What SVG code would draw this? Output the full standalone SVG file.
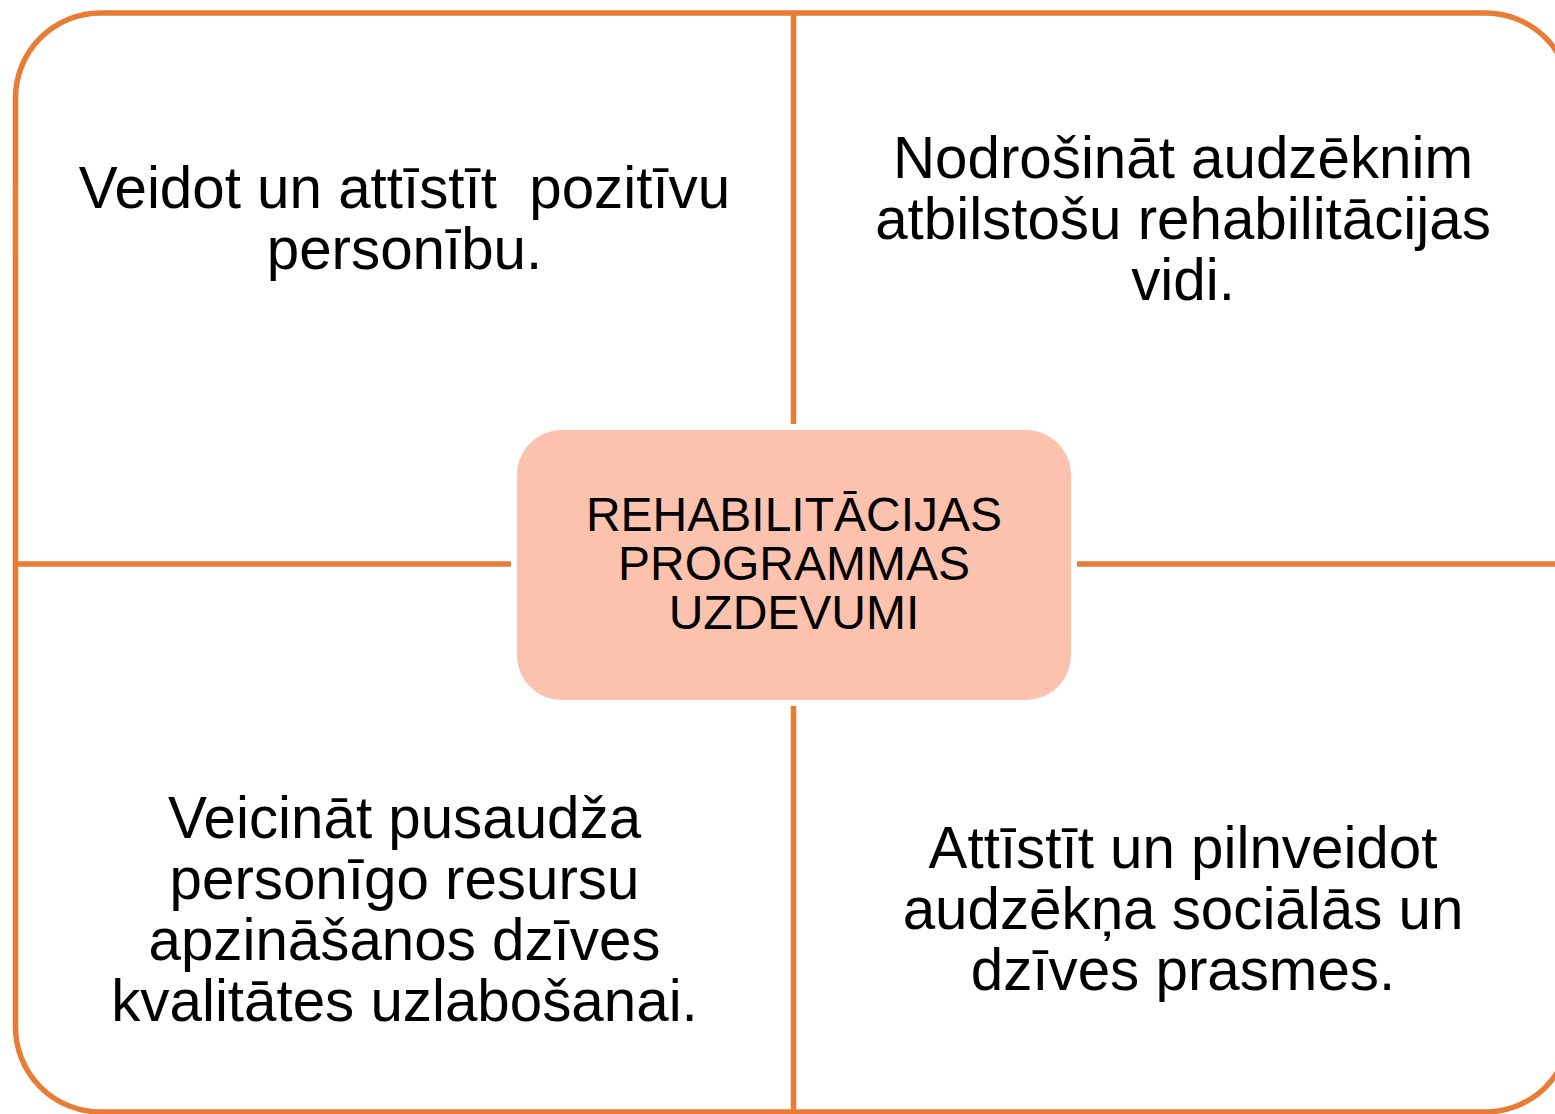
<svg xmlns="http://www.w3.org/2000/svg" width="1555" height="1114" viewBox="0 0 1555 1114">
<style>
.frame{fill:none;stroke:#E97C35;stroke-width:5.5}
.conn{stroke:#E97C35;stroke-width:5.5;fill:none}
.t{font-family:"Liberation Sans",Arial,sans-serif;font-size:58.3px;fill:#000;text-anchor:middle;white-space:pre}
.c{font-family:"Liberation Sans",Arial,sans-serif;font-size:48px;fill:#000;text-anchor:middle}
</style>
<rect width="1555" height="1114" fill="#fff"/>
<g id="frame">
<rect class="frame" x="15.5" y="13" width="1555" height="1099" rx="85" ry="85"/>
</g>
<g id="connectors">
<line class="conn" x1="793.5" y1="13" x2="793.5" y2="424"/>
<line class="conn" x1="793.5" y1="706" x2="793.5" y2="1114"/>
<line class="conn" x1="15.5" y1="564" x2="511" y2="564"/>
<line class="conn" x1="1077" y1="564" x2="1555" y2="564"/>
</g>
<g id="center">
<rect x="517" y="430" width="554" height="270" rx="45" ry="45" fill="#FCC2AD"/>
<text class="c" x="794" y="531">REHABILITĀCIJAS</text>
<text class="c" x="794" y="580">PROGRAMMAS</text>
<text class="c" x="794" y="629">UZDEVUMI</text>
</g>
<g id="top-left">
<text class="t" x="404.5" y="208">Veidot un attīstīt  pozitīvu</text>
<text class="t" x="404.5" y="269">personību.</text>
</g>
<g id="top-right">
<text class="t" x="1183" y="178">Nodrošināt audzēknim</text>
<text class="t" x="1183" y="239">atbilstošu rehabilitācijas</text>
<text class="t" x="1183" y="300">vidi.</text>
</g>
<g id="bottom-left">
<text class="t" x="404.5" y="838">Veicināt pusaudža</text>
<text class="t" x="404.5" y="899">personīgo resursu</text>
<text class="t" x="404.5" y="960">apzināšanos dzīves</text>
<text class="t" x="404.5" y="1021">kvalitātes uzlabošanai.</text>
</g>
<g id="bottom-right">
<text class="t" x="1183" y="868">Attīstīt un pilnveidot</text>
<text class="t" x="1183" y="929">audzēkņa sociālās un</text>
<text class="t" x="1183" y="990">dzīves prasmes.</text>
</g>
</svg>
